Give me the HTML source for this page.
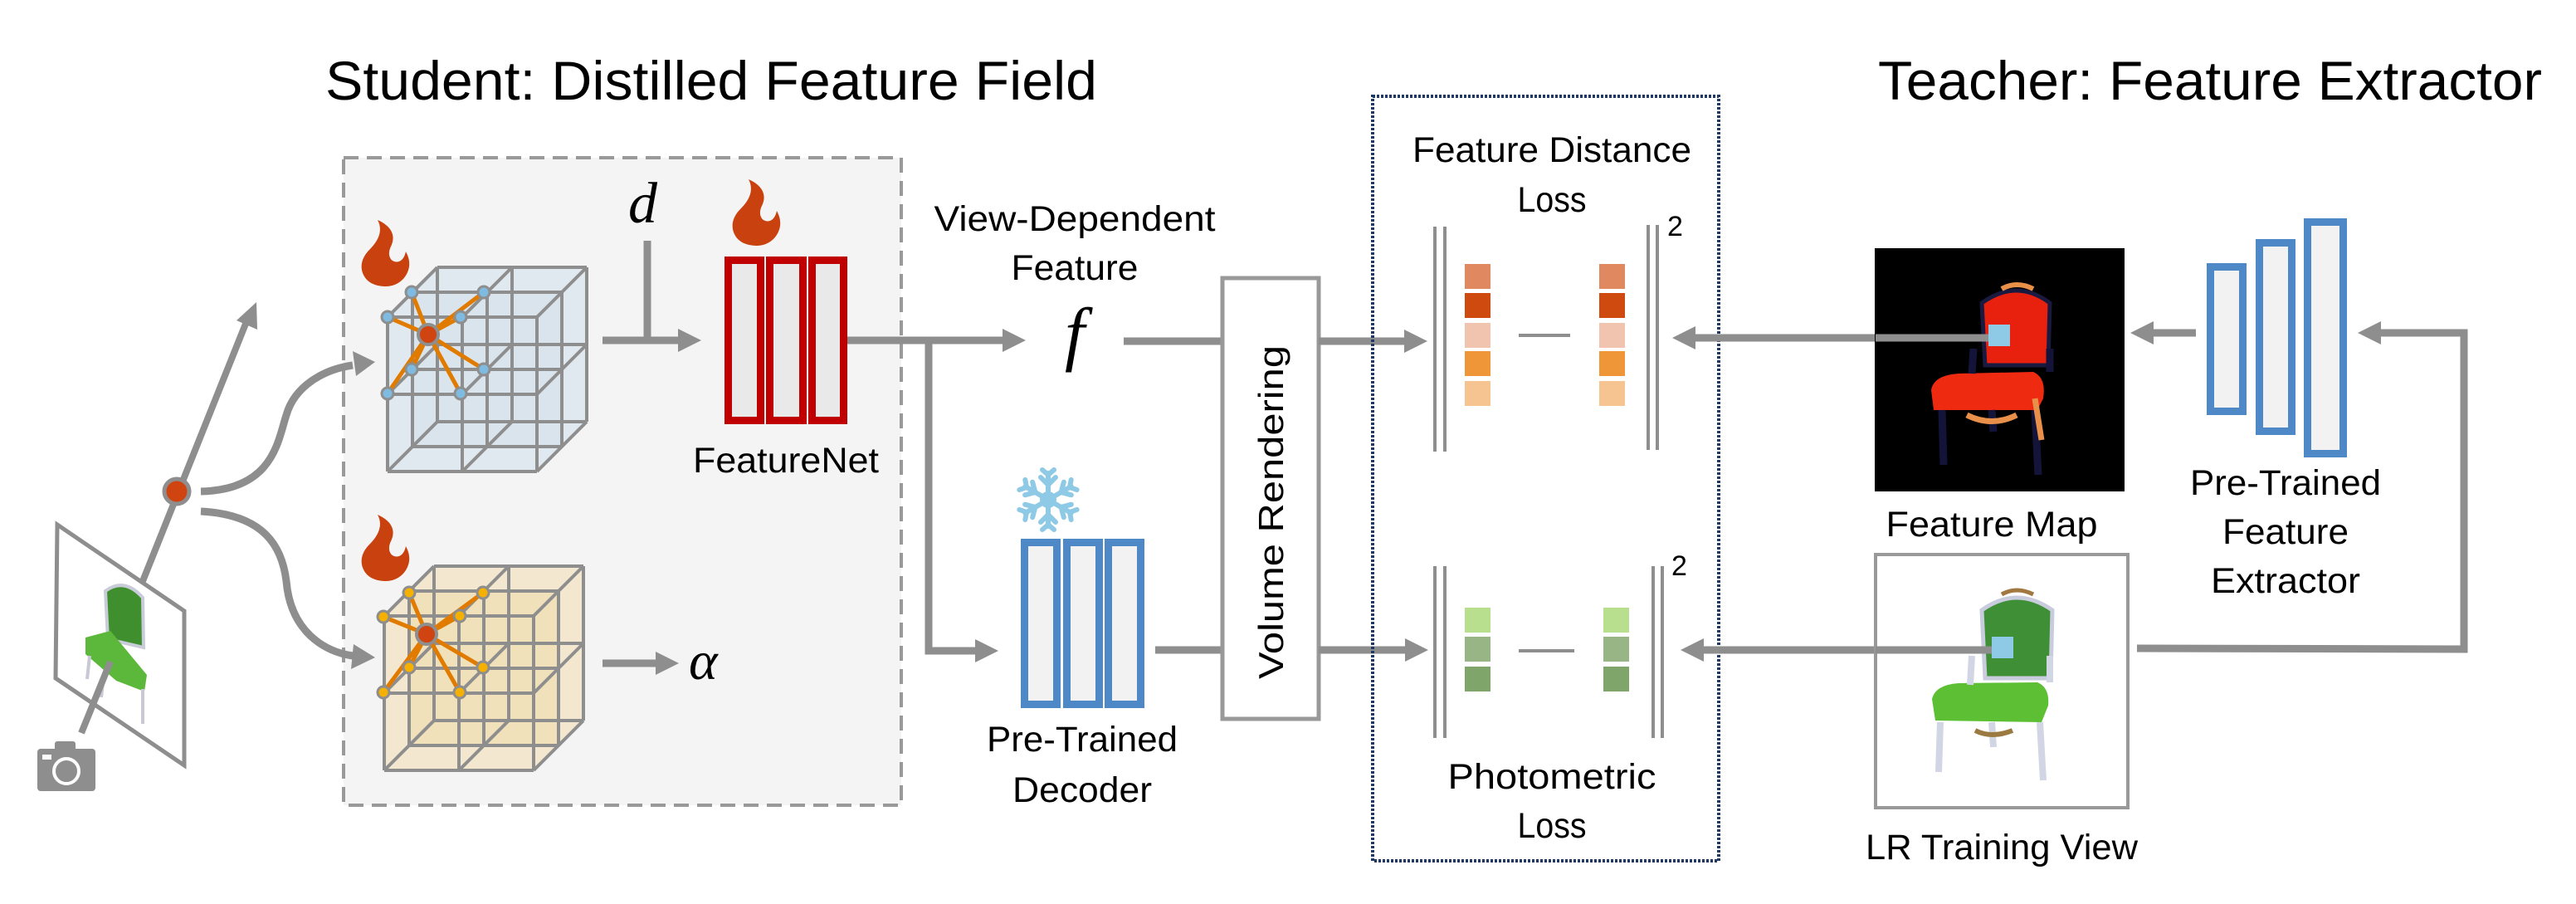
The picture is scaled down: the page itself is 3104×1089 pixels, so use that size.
<!DOCTYPE html>
<html><head><meta charset="utf-8"><style>
html,body{margin:0;padding:0;background:#fff}
svg{display:block}
text{font-family:"Liberation Sans",Arial,sans-serif;fill:#000}
</style></head><body>
<svg width="3104" height="1089" viewBox="0 0 3104 1089" xmlns="http://www.w3.org/2000/svg">
<defs>
<g id="lattice" stroke="#8e8e8e" stroke-width="4" fill="none">
<path d="M0,0H180M0,93H180M0,186H180M30,-30H210M30,63H210M30,156H210M60,-60H240M60,33H240M60,126H240"/>
<path d="M0,0V186M90,0V186M180,0V186M30,-30V156M120,-30V156M210,-30V156M60,-60V126M150,-60V126M240,-60V126"/>
<path d="M0,0l60,-60M90,0l60,-60M180,0l60,-60M0,93l60,-60M90,93l60,-60M180,93l60,-60M0,186l60,-60M90,186l60,-60M180,186l60,-60"/>
</g>
<path id="flame" d="M22,0 C30,15 20,28 12,36 C2,46 0,58 6,68 C12,78 24,80 32,80 C46,80 58,70 60,56 C61,48 58,42 56,38 C54,48 48,52 42,50 C36,48 34,40 38,32 C44,20 40,8 22,0 Z" fill="#c8410f"/>
</defs>

<text x="392" y="120" font-size="66" textLength="930" lengthAdjust="spacingAndGlyphs">Student: Distilled Feature Field</text>
<text x="2263" y="120" font-size="66" textLength="800" lengthAdjust="spacingAndGlyphs">Teacher: Feature Extractor</text>

<rect x="414" y="190" width="672" height="780" fill="#f4f4f4" stroke="#999" stroke-width="4" stroke-dasharray="18 10"/>

<polygon points="69,632 222,736 222,922 67,817" fill="#fff" stroke="#8e8e8e" stroke-width="5"/>
<path d="M127,712 Q150,695 172,720 L173,780 L130,770 Z" fill="#3f8f2f" stroke="#c8ccd8" stroke-width="4"/>
<path d="M103,768 L133,760 L177,813 L174,833 L140,820 L103,788 Z" fill="#5cb83a"/>
<path d="M108,790 L105,818 M172,830 L172,872 M125,815 L122,840" stroke="#c9c9d6" stroke-width="4"/>
<line x1="98" y1="883" x2="133" y2="797" stroke="#8e8e8e" stroke-width="8"/>
<line x1="172" y1="700" x2="298" y2="385" stroke="#8e8e8e" stroke-width="8"/>
<polygon points="309,364 310,397 285,386" fill="#8e8e8e"/>
<circle cx="213" cy="592" r="15" fill="#cf4410" stroke="#8e8e8e" stroke-width="5"/>
<rect x="45" y="902" width="70" height="51" rx="4" fill="#8e8e8e"/>
<rect x="66" y="893" width="25" height="12" rx="3" fill="#8e8e8e"/>
<circle cx="80" cy="929" r="15" fill="none" stroke="#fff" stroke-width="4"/>
<rect x="51" y="909" width="11" height="6" fill="#fff"/>

<path d="M242,592 C330,590 335,530 345,500 C355,465 390,445 425,440" fill="none" stroke="#8e8e8e" stroke-width="9"/>
<polygon points="452,436 425,423 429,453" fill="#8e8e8e"/>
<path d="M242,616 C320,620 340,660 345,700 C350,760 390,785 425,790" fill="none" stroke="#8e8e8e" stroke-width="9"/>
<polygon points="452,792 426,776 423,806" fill="#8e8e8e"/>

<g transform="translate(467,382)">
<polygon points="0,0 60,-60 240,-60 240,126 180,186 0,186" fill="#dfe8ef" opacity="0.9"/>
<rect x="30" y="-30" width="180" height="186" fill="#d3e0ea" opacity="0.5"/>
<use href="#lattice"/>
</g>
<g stroke="#e07b00" stroke-width="5">
<line x1="516" y1="403" x2="496" y2="352"/><line x1="516" y1="403" x2="583" y2="352"/>
<line x1="516" y1="403" x2="467" y2="382"/><line x1="516" y1="403" x2="555" y2="382"/>
<line x1="516" y1="403" x2="496" y2="445"/><line x1="516" y1="403" x2="583" y2="445"/>
<line x1="516" y1="403" x2="467" y2="474"/><line x1="516" y1="403" x2="555" y2="474"/>
</g>
<g fill="#7fbbe0" stroke="#8e8e8e" stroke-width="3">
<circle cx="496" cy="352" r="7"/><circle cx="583" cy="352" r="7"/><circle cx="467" cy="382" r="7"/><circle cx="555" cy="382" r="7"/>
<circle cx="496" cy="445" r="7"/><circle cx="583" cy="445" r="7"/><circle cx="467" cy="474" r="7"/><circle cx="555" cy="474" r="7"/>
</g>
<circle cx="516" cy="403" r="12" fill="#cf4410" stroke="#8e8e8e" stroke-width="4"/>

<g transform="translate(463,742)">
<polygon points="0,0 60,-60 240,-60 240,126 180,186 0,186" fill="#f2e6cc" opacity="0.95"/>
<rect x="30" y="-30" width="180" height="186" fill="#f0d9a0" opacity="0.45"/>
<use href="#lattice"/>
</g>
<g stroke="#e07b00" stroke-width="5">
<line x1="514" y1="764" x2="493" y2="714"/><line x1="514" y1="764" x2="582" y2="714"/>
<line x1="514" y1="764" x2="462" y2="743"/><line x1="514" y1="764" x2="554" y2="742"/>
<line x1="514" y1="764" x2="493" y2="804"/><line x1="514" y1="764" x2="582" y2="804"/>
<line x1="514" y1="764" x2="462" y2="834"/><line x1="514" y1="764" x2="554" y2="834"/>
</g>
<g fill="#f5b000" stroke="#8e8e8e" stroke-width="3">
<circle cx="493" cy="714" r="7"/><circle cx="582" cy="714" r="7"/><circle cx="462" cy="743" r="7"/><circle cx="554" cy="742" r="7"/>
<circle cx="493" cy="804" r="7"/><circle cx="582" cy="804" r="7"/><circle cx="462" cy="834" r="7"/><circle cx="554" cy="834" r="7"/>
</g>
<circle cx="514" cy="764" r="12" fill="#cf4410" stroke="#8e8e8e" stroke-width="4"/>

<use href="#flame" x="433" y="265"/>
<use href="#flame" x="433" y="620"/>
<use href="#flame" x="880" y="216"/>

<text x="757" y="268" font-size="70" style="font-family:'Liberation Serif',serif;font-style:italic">d</text>
<line x1="780" y1="290" x2="780" y2="410" stroke="#8e8e8e" stroke-width="9"/>
<line x1="726" y1="410" x2="820" y2="410" stroke="#8e8e8e" stroke-width="9"/>
<polygon points="845,410 817,396 817,424" fill="#8e8e8e"/>

<g fill="#e9e9e9" stroke="#c00000" stroke-width="9">
<rect x="877.5" y="313.5" width="39" height="193"/>
<rect x="927.5" y="313.5" width="40" height="193"/>
<rect x="978.5" y="313.5" width="38" height="193"/>
</g>
<text x="947" y="569" font-size="43" text-anchor="middle" textLength="224" lengthAdjust="spacingAndGlyphs">FeatureNet</text>

<line x1="726" y1="799" x2="795" y2="799" stroke="#8e8e8e" stroke-width="9"/>
<polygon points="818,799 790,785 790,813" fill="#8e8e8e"/>
<text x="830" y="818" font-size="66" style="font-family:'Liberation Serif',serif;font-style:italic">α</text>

<line x1="1021" y1="410" x2="1212" y2="410" stroke="#8e8e8e" stroke-width="9"/>
<polygon points="1236,410 1208,396 1208,424" fill="#8e8e8e"/>
<polyline points="1119,410 1119,784 1180,784" fill="none" stroke="#8e8e8e" stroke-width="9"/>
<polygon points="1203,784 1175,770 1175,798" fill="#8e8e8e"/>

<text x="1295" y="278" font-size="43" text-anchor="middle" textLength="339" lengthAdjust="spacingAndGlyphs">View-Dependent</text>
<text x="1295" y="337" font-size="43" text-anchor="middle" textLength="153" lengthAdjust="spacingAndGlyphs">Feature</text>
<text x="1295" y="430" font-size="86" text-anchor="middle" style="font-family:'Liberation Serif',serif;font-style:italic">f</text>
<line x1="1354" y1="411" x2="1473" y2="411" stroke="#8e8e8e" stroke-width="9"/>

<g transform="translate(1263,602)" stroke="#8ecae6" stroke-width="6" stroke-linecap="round" fill="none">
<g id="arm"><line x1="0" y1="0" x2="0" y2="-32"/><polyline points="-9,-27 0,-18 9,-27"/><polyline points="-7,-36 0,-30 7,-36"/></g>
<use href="#arm" transform="rotate(60)"/><use href="#arm" transform="rotate(120)"/><use href="#arm" transform="rotate(180)"/><use href="#arm" transform="rotate(240)"/><use href="#arm" transform="rotate(300)"/>
<circle r="7" fill="#8ecae6"/>
</g>

<g fill="#f2f2f2" stroke="#4f88c6" stroke-width="9">
<rect x="1234.5" y="653.5" width="39" height="195"/>
<rect x="1285.5" y="653.5" width="39" height="195"/>
<rect x="1335.5" y="653.5" width="39" height="195"/>
</g>
<text x="1304" y="905" font-size="43" text-anchor="middle" textLength="230" lengthAdjust="spacingAndGlyphs">Pre-Trained</text>
<text x="1304" y="966" font-size="43" text-anchor="middle" textLength="168" lengthAdjust="spacingAndGlyphs">Decoder</text>
<line x1="1392" y1="783" x2="1473" y2="783" stroke="#8e8e8e" stroke-width="9"/>

<rect x="1473" y="335" width="116" height="531" fill="#fff" stroke="#999" stroke-width="5"/>
<text transform="translate(1546,617) rotate(-90)" x="0" y="0" font-size="42" text-anchor="middle" textLength="402" lengthAdjust="spacingAndGlyphs">Volume Rendering</text>

<line x1="1589" y1="411" x2="1695" y2="411" stroke="#8e8e8e" stroke-width="9"/>
<polygon points="1720,411 1692,397 1692,425" fill="#8e8e8e"/>
<line x1="1589" y1="783" x2="1697" y2="783" stroke="#8e8e8e" stroke-width="9"/>
<polygon points="1721,783 1693,769 1693,797" fill="#8e8e8e"/>

<rect x="1654" y="116" width="417" height="921" fill="none" stroke="#1f3864" stroke-width="4" stroke-dasharray="3 2"/>
<text x="1870" y="195" font-size="43" text-anchor="middle" textLength="336" lengthAdjust="spacingAndGlyphs">Feature Distance</text>
<text x="1870" y="255" font-size="43" text-anchor="middle" textLength="83" lengthAdjust="spacingAndGlyphs">Loss</text>
<text x="1870" y="950" font-size="43" text-anchor="middle" textLength="251" lengthAdjust="spacingAndGlyphs">Photometric</text>
<text x="1870" y="1009" font-size="43" text-anchor="middle" textLength="83" lengthAdjust="spacingAndGlyphs">Loss</text>

<g stroke="#8e8e8e" stroke-width="4">
<line x1="1729" y1="273" x2="1729" y2="544"/><line x1="1741" y1="273" x2="1741" y2="544"/>
<line x1="1986" y1="271" x2="1986" y2="542"/><line x1="1997" y1="271" x2="1997" y2="542"/>
<line x1="1729" y1="682" x2="1729" y2="889"/><line x1="1741" y1="682" x2="1741" y2="889"/>
<line x1="1992" y1="682" x2="1992" y2="889"/><line x1="2003" y1="682" x2="2003" y2="889"/>
<line x1="1830" y1="404" x2="1892" y2="404"/><line x1="1830" y1="784" x2="1897" y2="784"/>
</g>
<text x="2009" y="284" font-size="34">2</text>
<text x="2014" y="693" font-size="34">2</text>
<g>
<rect x="1765" y="318" width="31" height="30" fill="#e08860"/><rect x="1765" y="353" width="31" height="30" fill="#cf4a0e"/>
<rect x="1765" y="389" width="31" height="30" fill="#f0c4ae"/><rect x="1765" y="423" width="31" height="30" fill="#ef9638"/>
<rect x="1765" y="459" width="31" height="30" fill="#f5c490"/>
<rect x="1927" y="318" width="31" height="30" fill="#e08860"/><rect x="1927" y="353" width="31" height="30" fill="#cf4a0e"/>
<rect x="1927" y="389" width="31" height="30" fill="#f0c4ae"/><rect x="1927" y="423" width="31" height="30" fill="#ef9638"/>
<rect x="1927" y="459" width="31" height="30" fill="#f5c490"/>
<rect x="1765" y="732" width="31" height="30" fill="#b8df8e"/><rect x="1765" y="767" width="31" height="30" fill="#98b585"/>
<rect x="1765" y="803" width="31" height="30" fill="#80a56b"/>
<rect x="1932" y="732" width="31" height="30" fill="#b8df8e"/><rect x="1932" y="767" width="31" height="30" fill="#98b585"/>
<rect x="1932" y="803" width="31" height="30" fill="#80a56b"/>
</g>

<line x1="2040" y1="407" x2="2396" y2="407" stroke="#8e8e8e" stroke-width="9"/>
<polygon points="2015,407 2043,393 2043,421" fill="#8e8e8e"/>
<line x1="2050" y1="783" x2="2400" y2="783" stroke="#8e8e8e" stroke-width="9"/>
<polygon points="2025,783 2053,769 2053,797" fill="#8e8e8e"/>

<rect x="2259" y="299" width="301" height="293" fill="#000"/>
<path d="M2392,440 L2388,365 Q2430,335 2470,365 L2468,440 Z" fill="#e8200e" stroke="#1a1a40" stroke-width="5"/>
<path d="M2412,348 Q2430,338 2450,348" stroke="#e89048" stroke-width="6" fill="none"/>
<path d="M2327,470 Q2330,452 2360,450 L2450,448 Q2466,455 2462,480 L2455,494 L2330,494 Z" fill="#ee2a10"/>
<path d="M2340,494 L2342,560 M2452,494 L2456,572 M2400,494 L2402,520 M2378,420 L2376,450 M2470,420 L2470,448" stroke="#14143a" stroke-width="9"/>
<path d="M2370,500 Q2400,515 2430,500 M2452,480 L2460,530" stroke="#e8904a" stroke-width="7" fill="none"/>
<path d="M2260,407 L2396,407" stroke="#8e8e8e" stroke-width="9"/>
<rect x="2396" y="391" width="26" height="26" fill="#8ecae6"/>
<text x="2400" y="646" font-size="43" text-anchor="middle" textLength="255" lengthAdjust="spacingAndGlyphs">Feature Map</text>

<rect x="2260" y="668" width="304" height="305" fill="#fff" stroke="#999" stroke-width="4"/>
<path d="M2392,817 L2388,735 Q2430,705 2473,735 L2471,817 Z" fill="#3e8f36" stroke="#c8ccdc" stroke-width="5"/>
<path d="M2412,716 Q2430,706 2450,716" stroke="#a07840" stroke-width="5" fill="none"/>
<path d="M2328,842 Q2332,825 2360,823 L2455,822 Q2470,828 2468,850 L2460,870 L2332,868 Z" fill="#5cbf34"/>
<path d="M2338,870 L2336,930 M2458,870 L2462,940 M2400,870 L2402,900 M2376,790 L2374,825 M2470,790 L2470,822" stroke="#d2d6e4" stroke-width="8"/>
<path d="M2380,880 Q2400,890 2425,880" stroke="#9a7a40" stroke-width="6" fill="none"/>
<path d="M2260,783 L2400,783" stroke="#8e8e8e" stroke-width="9"/>
<rect x="2400" y="767" width="26" height="26" fill="#8ecae6"/>
<text x="2412" y="1035" font-size="43" text-anchor="middle" textLength="328" lengthAdjust="spacingAndGlyphs">LR Training View</text>

<line x1="2593" y1="401" x2="2646" y2="401" stroke="#8e8e8e" stroke-width="9"/>
<polygon points="2567,401 2595,387 2595,415" fill="#8e8e8e"/>
<g fill="#f2f2f2" stroke="#4f88c6" stroke-width="9">
<rect x="2663.5" y="321.5" width="39" height="174"/>
<rect x="2722.5" y="292.5" width="39" height="227"/>
<rect x="2780.5" y="267.5" width="43" height="279"/>
</g>
<text x="2754" y="596" font-size="43" text-anchor="middle" textLength="230" lengthAdjust="spacingAndGlyphs">Pre-Trained</text>
<text x="2754" y="655" font-size="43" text-anchor="middle" textLength="152" lengthAdjust="spacingAndGlyphs">Feature</text>
<text x="2754" y="714" font-size="43" text-anchor="middle" textLength="180" lengthAdjust="spacingAndGlyphs">Extractor</text>
<polyline points="2575,781 2969,782 2969,401 2865,401" fill="none" stroke="#8e8e8e" stroke-width="9"/>
<polygon points="2841,401 2869,387 2869,415" fill="#8e8e8e"/>
</svg>
</body></html>
